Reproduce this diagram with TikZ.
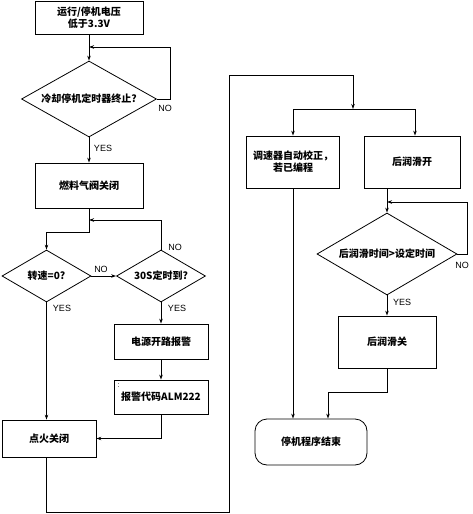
\documentclass[tikz,border=0pt]{standalone}
\usepackage{fontspec}
\newfontfamily\cjk{Noto Sans CJK SC}
\newfontfamily\lab{Liberation Sans}
\usetikzlibrary{shapes.geometric,arrows.meta,calc}
\begin{document}
\begin{tikzpicture}[x=1pt,y=-1pt,
  every node/.style={inner sep=0pt},
  box/.style={draw,line width=0.8pt,rectangle,align=center,font=\cjk\bfseries\fontsize{10}{12}\selectfont},
  dia/.style={draw,line width=0.8pt,diamond,aspect=1.75,align=center,font=\cjk\bfseries\fontsize{10}{12}\selectfont},
  term/.style={draw,line width=0.8pt,rectangle,rounded corners=12pt,align=center,font=\cjk\bfseries\fontsize{10}{12}\selectfont},
  conn/.style={line width=0.8pt},
  arr/.style={conn,-{Stealth[length=5pt,width=3.5pt]}},
  yn/.style={font=\lab\fontsize{9}{10}\selectfont}]
\useasboundingbox (0,0) rectangle (472,514);
% left column
\node[box,minimum width=108pt,minimum height=33pt] (b1) at (89,17.5) {运行/停机电压\\低于3.3V};
\node[dia,minimum width=135pt,minimum height=76pt] (d1) at (89,99) {冷却停机定时器终止?};
\node[box,minimum width=108pt,minimum height=45pt] (b2) at (89,185.5) {燃料气阀关闭};
\node[dia,minimum width=89pt,minimum height=52pt] (d2) at (46.5,276) {转速=0?};
\node[dia,minimum width=89pt,minimum height=52pt] (d3) at (161,276) {30S定时到?};
\node[box,minimum width=94pt,minimum height=35pt] (b3) at (161,341.5) {电源开路报警};
\node[box,minimum width=94pt,minimum height=34pt] (b4) at (161,397) {报警代码ALM222};
\node[font=\lab\fontsize{7}{7}\selectfont] (colon) at (118.5,386) {:};
\node[box,minimum width=94pt,minimum height=37pt] (b5) at (49,438.5) {点火关闭};
% right column
\node[box,minimum width=93pt,minimum height=52pt] (b6) at (293,162) {调速器自动校正，\\若已编程};
\node[box,minimum width=96pt,minimum height=52pt] (b7) at (412,162) {后润滑开};
\node[dia,minimum width=140pt,minimum height=82pt] (d4) at (387,254) {后润滑时间>设定时间};
\node[box,minimum width=98pt,minimum height=52pt] (b8) at (387,342) {后润滑关};
\node[term,minimum width=112pt,minimum height=46pt] (t) at (311,442) {停机程序结束};
% coordinates
\coordinate (j1) at (89,47);
\coordinate (j2) at (89,220);
\coordinate (j3) at (353,109);
\coordinate (j4) at (387,202);
\path (t.north) ++(17,0) coordinate (tin);
% connectors left
\draw[arr] (b1.south) -- (d1.north);
\draw[arr] (d1.east) -| (170,47) -- (j1);
\draw[arr] (d1.south) -- (b2.north);
\draw[arr] (b2.south) -- (89,232) -| (d2.north);
\draw[arr] (d3.north) |- (j2);
\draw[arr] (d2.east) -- (d3.west);
\draw[arr] (d3.south) -- (b3.north);
\draw[arr] (b3.south) -- (b4.north);
\draw[arr] (b4.south) |- (b5.east);
\draw[arr] (d2.south) -- (d2.south |- b5.north);
\draw[arr] (b5.south -| d2.south) |- (229,512) |- (353,75) -- (j3);
% connectors right
\draw[arr] (j3) -| (b6.north);
\draw[arr] (j3) -| (b7.north -| 415,0);
\draw[arr] (b7.south -| d4.north) -- (d4.north);
\draw[arr] (d4.east) -| (467,202) -- (j4);
\draw[arr] (d4.south) -- (b8.north);
\draw[arr] (b8.south) -- (387,392) -| (tin);
\draw[arr] (b6.south) -- (b6.south |- t.north);
% labels
\node[yn] (l1) at (165,108) {NO};
\node[yn] (l2) at (103,148) {YES};
\node[yn] (l3) at (101,269) {NO};
\node[yn] (l4) at (175,247) {NO};
\node[yn] (l5) at (62,308) {YES};
\node[yn] (l6) at (177,308) {YES};
\node[yn] (l7) at (462,265) {NO};
\node[yn] (l8) at (402,302) {YES};
\end{tikzpicture}
\end{document}
